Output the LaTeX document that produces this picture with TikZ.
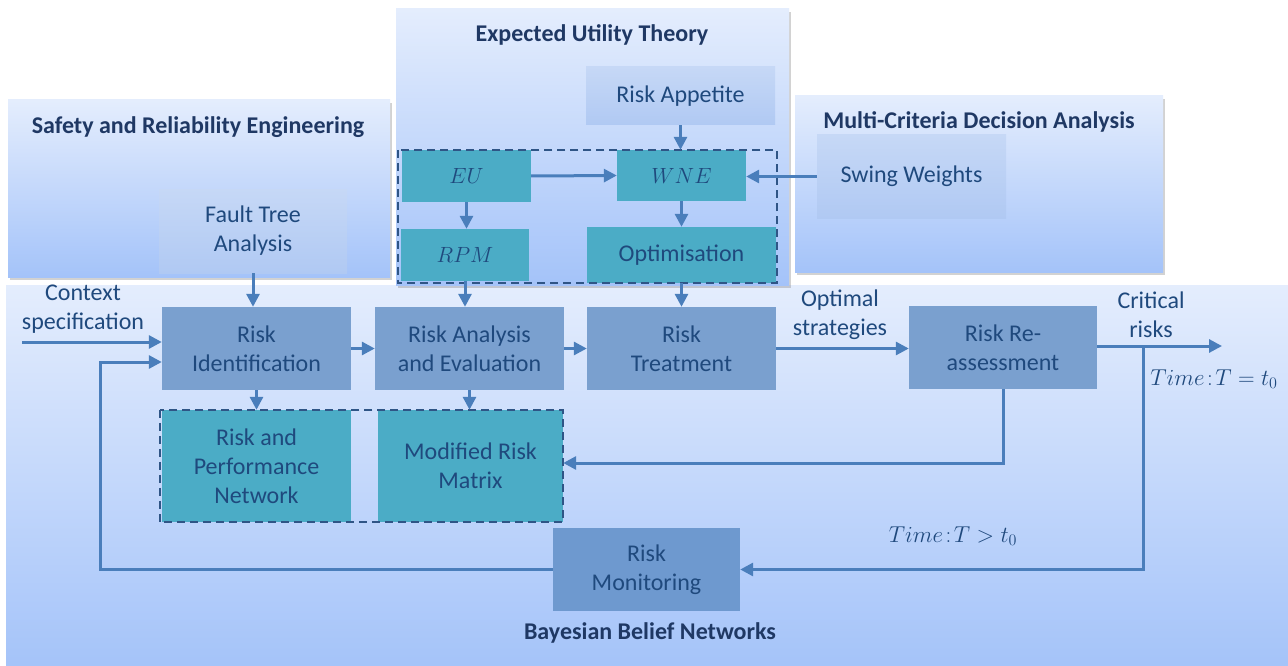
\RequirePackage{fix-cm}
\documentclass[tikz,border=0pt]{standalone}
\usepackage{fontspec}
\setmainfont{Carlito}
\usetikzlibrary{arrows.meta,shadows,calc}
\definecolor{txt}{HTML}{1F497D}
\definecolor{ttl}{HTML}{1F3864}
\definecolor{arrc}{HTML}{4A7EBB}
\definecolor{teal}{HTML}{4BACC6}
\definecolor{riskc}{HTML}{7AA0CF}
\definecolor{monc}{HTML}{6E99CF}
\definecolor{bgtop}{HTML}{E4EDFD}
\definecolor{bgbot}{HTML}{A4C3F9}
\definecolor{ltop}{HTML}{C6D8F6}
\definecolor{lbot}{HTML}{B0C9F3}
\definecolor{dashc}{HTML}{2F5586}
\tikzset{
  panel/.style={draw=none, top color=bgtop, bottom color=bgbot},
  shpanel/.style={panel, drop shadow={shadow xshift=2pt, shadow yshift=-3pt, opacity=.35}},
  basebox/.style={draw=none, text=txt, align=center, inner sep=0pt,
    font=\fontsize{24}{29}\selectfont},
  lightbox/.style={basebox, top color=ltop, bottom color=lbot},
  riskbox/.style={basebox, fill=riskc},
  monbox/.style={basebox, fill=monc},
  tealbox/.style={basebox, fill=teal},
  mathbox/.style={tealbox, font=\fontsize{22}{26}\selectfont},
  titletext/.style={text=ttl, font=\bfseries\fontsize{24}{28}\selectfont},
  lbl/.style={text=txt, align=center, font=\fontsize{24}{29}\selectfont},
  mathlbl/.style={text=txt, font=\fontsize{23}{27}\selectfont},
  arr/.style={draw=arrc, line width=3pt, -{Triangle[length=13pt,width=13pt]}},
  dashbox/.style={draw=dashc, line width=2pt, dash pattern=on 8pt off 5pt}
}
\begin{document}
\begin{tikzpicture}[x=1pt,y=-1pt]
\useasboundingbox (0,0) rectangle (1288,666);
\fill[white] (0,0) rectangle (1288,666);
% background panels
\path[panel] (6,285) rectangle (1295,670);
\path[shpanel] (8,100) rectangle (390,277);
\path[shpanel] (396,9) rectangle (789,285);
\path[shpanel] (795,96) rectangle (1163,272);
% titles
\node[titletext] (t1) at (198,127) {Safety and Reliability Engineering};
\node[titletext] (t2) at (592,35) {Expected Utility Theory};
\node[titletext] (t3) at (979,122) {Multi-Criteria Decision Analysis};
\node[titletext] (t4) at (650,633) {Bayesian Belief Networks};
% light nodes
\node[lightbox, minimum width=188, minimum height=84] (fta) at (253,231) {Fault Tree\\Analysis};
\node[lightbox, minimum width=189, minimum height=58] (app) at (680.5,96) {Risk Appetite};
\node[lightbox, minimum width=189, minimum height=83] (swing) at (911.5,176.5) {Swing Weights};
% teal nodes
\node[mathbox, minimum width=129, minimum height=52] (eu) at (466.5,176) {$EU$};
\node[mathbox, minimum width=129, minimum height=51] (wne) at (681.5,175.5) {$WNE$};
\node[mathbox, minimum width=128, minimum height=52] (rpm) at (465,255) {$RPM$};
\node[tealbox, minimum width=189, minimum height=56] (opt) at (681.5,255) {Optimisation};
\node[tealbox, minimum width=189, minimum height=112] (rpn) at (256.5,466) {Risk and\\Performance\\Network};
\node[tealbox, minimum width=185, minimum height=112] (mrm) at (470.5,466) {Modified Risk\\Matrix};
% risk process nodes
\node[riskbox, minimum width=189, minimum height=83] (rid) at (256.5,348.5) {Risk\\Identification};
\node[riskbox, minimum width=189, minimum height=83] (rae) at (469.5,348.5) {Risk Analysis\\and Evaluation};
\node[riskbox, minimum width=189, minimum height=83] (rt) at (681.5,348.5) {Risk\\Treatment};
\node[riskbox, minimum width=188, minimum height=83] (rra) at (1003,347.5) {Risk Re-\\assessment};
\node[monbox, minimum width=187, minimum height=83] (rmon) at (646.5,569.5) {Risk\\Monitoring};
% dashed groups
\draw[dashbox] ($(eu.north west)+(-4,0)$) rectangle ($(opt.south east)+(1,0)$);
\draw[dashbox] ($(rpn.north west)+(-2,0)$) rectangle (mrm.south east);
% labels
\node[lbl] (lctx) at (83,309) {Context\\specification};
\node[lbl] (lopt) at (840,315) {Optimal\\strategies};
\node[lbl] (lcrit) at (1151,315) {Critical\\risks};
\node[mathlbl] (lt0) at (1214,379) {$Time\!:\!T=t_0$};
\node[mathlbl] (lt1) at (953,536) {$Time\!:\!T>t_0$};
% coordinates
\coordinate (ctx) at (22,342);
\coordinate (fbx) at (100,450);
\coordinate (out) at (1222,346);
\coordinate (br) at (1143,346);
% connectors
\draw[arr] (fta.south) -- (fta.south |- rid.north);
\draw[arr] (app.south) -- (app.south |- wne.north);
\draw[arr] (eu.east) -- (wne.west);
\draw[arr] (eu.south) -- (eu.south |- rpm.north);
\draw[arr] (wne.south) -- (wne.south |- opt.north);
\draw[arr] (swing.west) -- (swing.west -| wne.east);
\draw[arr] (rpm.south) -- (rpm.south |- rae.north);
\draw[arr] (opt.south) -- (opt.south |- rt.north);
\draw[arr] (ctx) -- (ctx -| rid.west);
\draw[arr] (rmon.west) -| (fbx) |- ($(rid.west)+(0,13.5)$);
\draw[arr] (rid.east) -- (rae.west);
\draw[arr] (rae.east) -- (rt.west);
\draw[arr] (rt.east) -- (rt.east -| rra.west);
\draw[arr] (rra.east |- out) -- (out);
\draw[arr] (br) |- (rmon.east);
\draw[arr] (rra.south) |- ($(mrm.east)+(0,-3)$);
\draw[arr] (rid.south) -- (rid.south |- rpn.north);
\draw[arr] (rae.south) -- (rae.south |- mrm.north);
\end{tikzpicture}
\end{document}
